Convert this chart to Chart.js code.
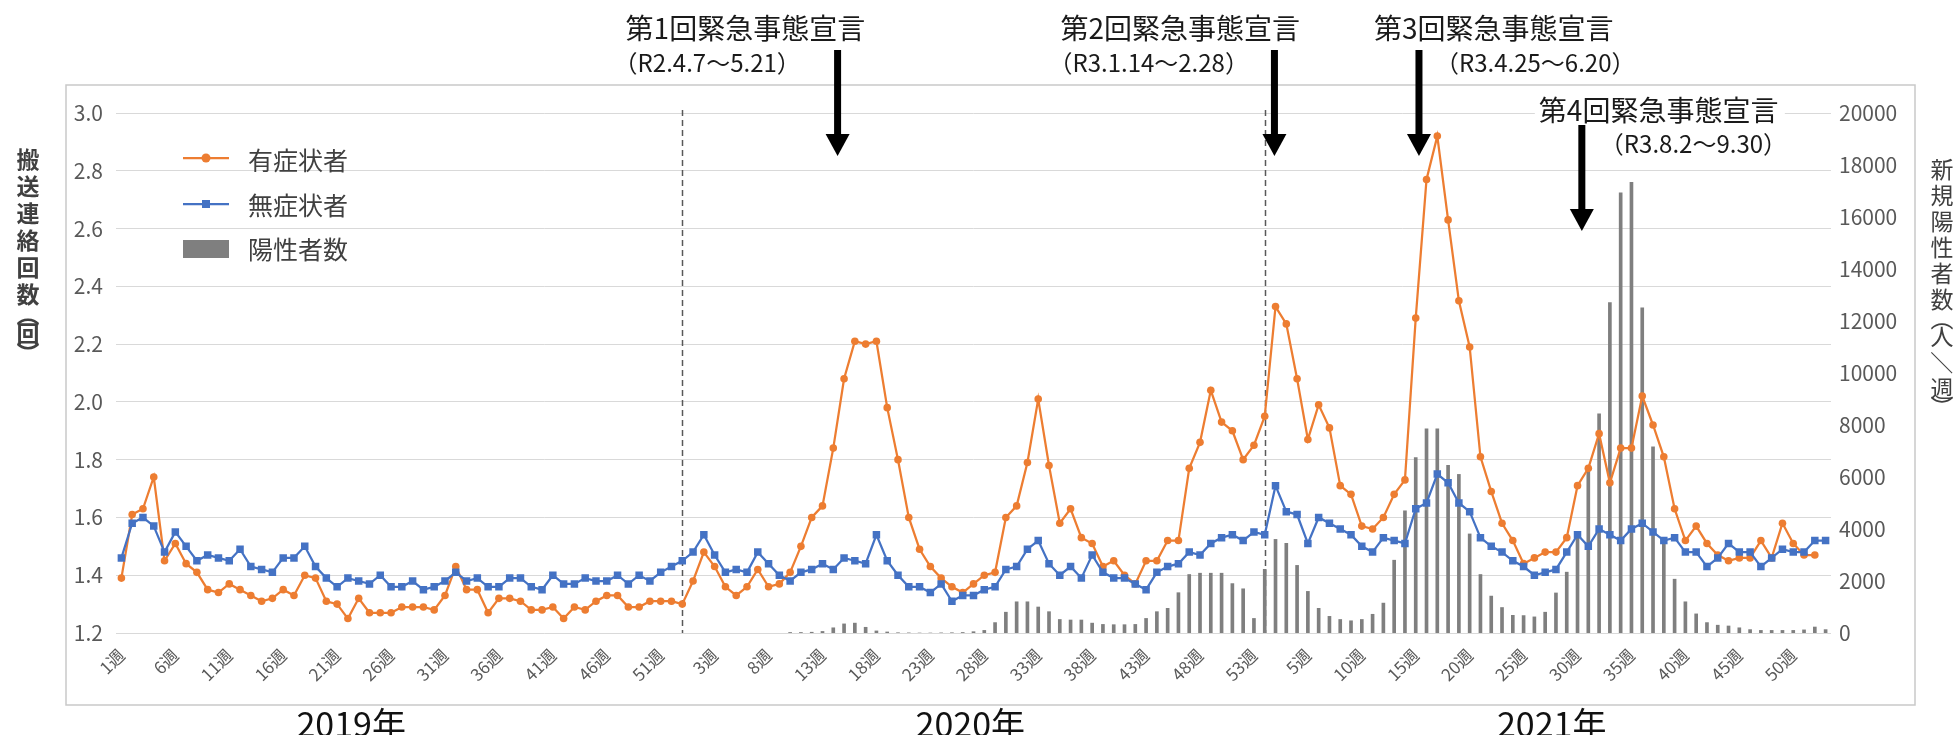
<!DOCTYPE html>
<html lang="ja">
<head>
<meta charset="utf-8">
<title>搬送連絡回数と新規陽性者数の推移</title>
<script src="https://cdn.jsdelivr.net/npm/chart.js@4.4.1/dist/chart.umd.min.js"></script>
<style>
  html, body { margin: 0; padding: 0; background: #fff; }
  #wrap { width: 1959px; height: 735px; }
</style>
</head>
<body>
<div id="wrap"><canvas id="transferChart" width="1959" height="735"></canvas></div>
<script>
// 年ごとの週（各年 1〜53週）
var years = ['2019年', '2020年', '2021年'];
var weeksPerYear = 53;

// 有症状者 搬送連絡回数（回）
var symptomatic2019 = [1.39, 1.61, 1.63, 1.74, 1.45, 1.51, 1.44, 1.41, 1.35, 1.34, 1.37, 1.35, 1.33, 1.31, 1.32, 1.35, 1.33, 1.40, 1.39, 1.31, 1.30, 1.25, 1.32, 1.27, 1.27, 1.27, 1.29, 1.29, 1.29, 1.28, 1.33, 1.43, 1.35, 1.35, 1.27, 1.32, 1.32, 1.31, 1.28, 1.28, 1.29, 1.25, 1.29, 1.28, 1.31, 1.33, 1.33, 1.29, 1.29, 1.31, 1.31, 1.31, 1.30];
var symptomatic2020 = [1.38, 1.48, 1.43, 1.36, 1.33, 1.36, 1.42, 1.36, 1.37, 1.41, 1.50, 1.60, 1.64, 1.84, 2.08, 2.21, 2.20, 2.21, 1.98, 1.80, 1.60, 1.49, 1.43, 1.39, 1.36, 1.34, 1.37, 1.40, 1.41, 1.60, 1.64, 1.79, 2.01, 1.78, 1.58, 1.63, 1.53, 1.51, 1.43, 1.45, 1.40, 1.37, 1.45, 1.45, 1.52, 1.52, 1.77, 1.86, 2.04, 1.93, 1.90, 1.80, 1.85];
var symptomatic2021 = [1.95, 2.33, 2.27, 2.08, 1.87, 1.99, 1.91, 1.71, 1.68, 1.57, 1.56, 1.60, 1.68, 1.73, 2.29, 2.77, 2.92, 2.63, 2.35, 2.19, 1.81, 1.69, 1.58, 1.52, 1.44, 1.46, 1.48, 1.48, 1.53, 1.71, 1.77, 1.89, 1.72, 1.84, 1.84, 2.02, 1.92, 1.81, 1.63, 1.52, 1.57, 1.51, 1.47, 1.45, 1.46, 1.46, 1.52, 1.46, 1.58, 1.51, 1.47, 1.47, null];

// 無症状者 搬送連絡回数（回）
var asymptomatic2019 = [1.46, 1.58, 1.60, 1.57, 1.48, 1.55, 1.50, 1.45, 1.47, 1.46, 1.45, 1.49, 1.43, 1.42, 1.41, 1.46, 1.46, 1.50, 1.43, 1.39, 1.36, 1.39, 1.38, 1.37, 1.40, 1.36, 1.36, 1.38, 1.35, 1.36, 1.38, 1.41, 1.38, 1.39, 1.36, 1.36, 1.39, 1.39, 1.36, 1.35, 1.40, 1.37, 1.37, 1.39, 1.38, 1.38, 1.40, 1.37, 1.40, 1.38, 1.41, 1.43, 1.45];
var asymptomatic2020 = [1.48, 1.54, 1.47, 1.41, 1.42, 1.41, 1.48, 1.44, 1.40, 1.38, 1.41, 1.42, 1.44, 1.42, 1.46, 1.45, 1.44, 1.54, 1.45, 1.40, 1.36, 1.36, 1.34, 1.37, 1.31, 1.33, 1.33, 1.35, 1.36, 1.42, 1.43, 1.49, 1.52, 1.44, 1.40, 1.43, 1.39, 1.47, 1.41, 1.39, 1.39, 1.37, 1.35, 1.41, 1.43, 1.44, 1.48, 1.47, 1.51, 1.53, 1.54, 1.52, 1.55];
var asymptomatic2021 = [1.54, 1.71, 1.62, 1.61, 1.51, 1.60, 1.58, 1.56, 1.54, 1.50, 1.48, 1.53, 1.52, 1.51, 1.63, 1.65, 1.75, 1.72, 1.65, 1.62, 1.53, 1.50, 1.48, 1.45, 1.43, 1.40, 1.41, 1.42, 1.48, 1.54, 1.50, 1.56, 1.54, 1.52, 1.56, 1.58, 1.55, 1.52, 1.53, 1.48, 1.48, 1.43, 1.46, 1.51, 1.48, 1.48, 1.43, 1.46, 1.49, 1.48, 1.48, 1.52, 1.52];

// 新規陽性者数（人／週）
var positives2020 = [null, null, null, null, null, null, null, null, null, 20, 20, 30, 60, 200, 350, 380, 220, 80, 40, 10, 5, 0, 0, 5, 10, 20, 50, 100, 400, 800, 1200, 1200, 1000, 820, 520, 500, 500, 380, 330, 320, 320, 330, 560, 820, 950, 1550, 2250, 2300, 2300, 2300, 1900, 1700, 560];
var positives2021 = [2450, 3600, 3450, 2600, 1600, 950, 640, 520, 470, 520, 720, 1150, 2800, 4700, 6750, 7850, 7850, 6450, 6100, 3810, 2250, 1420, 980, 680, 670, 620, 800, 1540, 2340, 3810, 6360, 8430, 12710, 16930, 17330, 12510, 7160, 3430, 2070, 1200, 735, 400, 300, 270, 200, 130, 100, 100, 100, 100, 120, 230, 130];

// 軸目盛
var leftTicks = [1.2, 1.4, 1.6, 1.8, 2.0, 2.2, 2.4, 2.6, 2.8, 3.0];
var rightTicks = [0, 2000, 4000, 6000, 8000, 10000, 12000, 14000, 16000, 18000, 20000];

var weekLabels = [];
years.forEach(function() {
    for (var w = 1; w <= weeksPerYear; w++) weekLabels.push(w + '週');
});
var noPositives = new Array(weeksPerYear).fill(null);

var symptomatic = symptomatic2019.concat(symptomatic2020, symptomatic2021);
var asymptomatic = asymptomatic2019.concat(asymptomatic2020, asymptomatic2021);
var positives = noPositives.concat(positives2020, positives2021);

var FONT = "'Noto Sans CJK JP', 'Noto Sans', sans-serif";
Chart.defaults.font.family = FONT;

var ORANGE = '#ED7D31';
var BLUE = '#4472C4';
var GREY_BAR = '#7F7F7F';

function drawVertical(ctx, text, x, yTop, step) {
    var forms = { '（': '︵', '）': '︶' };
    var y = yTop;
    for (var i = 0; i < text.length; i++) {
        var ch = text[i];
        var h = forms[ch] ? step * 0.45 : step;
        ctx.save();
        ctx.translate(x, y + h / 2);
        if (ch === '／') ctx.rotate(Math.PI / 2);
        ctx.fillText(forms[ch] || ch, 0, 0);
        ctx.restore();
        y += h;
    }
}

function drawArrow(ctx, x, yTop, yTip) {
    var shaft = 7, headW = 24, headH = 22;
    ctx.fillRect(x - shaft / 2, yTop, shaft, yTip - headH - yTop + 1);
    ctx.beginPath();
    ctx.moveTo(x - headW / 2, yTip - headH);
    ctx.lineTo(x + headW / 2, yTip - headH);
    ctx.lineTo(x, yTip);
    ctx.closePath();
    ctx.fill();
}

var decorations = {
    id: 'decorations',
    beforeDraw: function(chart) {
        var ctx = chart.ctx;
        ctx.save();
        ctx.fillStyle = '#fff';
        ctx.fillRect(0, 0, chart.width, chart.height);
        ctx.strokeStyle = '#c9c9c9';
        ctx.lineWidth = 1.5;
        ctx.strokeRect(66, 85, 1849, 620);
        ctx.restore();
    },
    beforeDatasetsDraw: function(chart) {
        // 年の区切りの破線
        var ctx = chart.ctx, xs = chart.scales.x, area = chart.chartArea;
        ctx.save();
        ctx.setLineDash([6, 4]);
        ctx.strokeStyle = '#595959';
        ctx.lineWidth = 1.5;
        [52, 106].forEach(function(i) {
            var px = Math.round(xs.getPixelForValue(i)) + 0.5;
            ctx.beginPath();
            ctx.moveTo(px, area.top - 3);
            ctx.lineTo(px, area.bottom);
            ctx.stroke();
        });
        ctx.restore();
    },
    afterDraw: function(chart) {
        var ctx = chart.ctx, xs = chart.scales.x, area = chart.chartArea;
        ctx.save();

        // 凡例
        var lx = area.left + 67;
        ctx.lineWidth = 2.25;
        ctx.strokeStyle = ORANGE;
        ctx.beginPath(); ctx.moveTo(lx, 158); ctx.lineTo(lx + 46, 158); ctx.stroke();
        ctx.fillStyle = ORANGE;
        ctx.beginPath(); ctx.arc(lx + 23, 158, 4.5, 0, Math.PI * 2); ctx.fill();
        ctx.strokeStyle = BLUE;
        ctx.beginPath(); ctx.moveTo(lx, 204); ctx.lineTo(lx + 46, 204); ctx.stroke();
        ctx.fillStyle = BLUE;
        ctx.fillRect(lx + 19, 200, 8, 8);
        ctx.fillStyle = GREY_BAR;
        ctx.fillRect(lx, 240, 46, 18);
        ctx.fillStyle = '#404040';
        ctx.font = '25px ' + FONT;
        ctx.textAlign = 'left';
        ctx.textBaseline = 'middle';
        ctx.fillText('有症状者', lx + 65, 160);
        ctx.fillText('無症状者', lx + 65, 205);
        ctx.fillText('陽性者数', lx + 65, 249);

        // 軸タイトル（縦書き）
        ctx.textAlign = 'center';
        ctx.font = 'bold 23px ' + FONT;
        drawVertical(ctx, '搬送連絡回数（回）', 28, 146, 27);
        ctx.font = '23px ' + FONT;
        drawVertical(ctx, '新規陽性者数（人／週）', 1942, 156, 26);

        // 年
        ctx.fillStyle = '#111';
        ctx.font = '34px ' + FONT;
        [[years[0], 21.3], [years[1], 78.7], [years[2], 132.6]].forEach(function(y) {
            ctx.fillText(y[0], xs.getPixelForValue(y[1]), 724);
        });

        // 緊急事態宣言
        var notes = [
            { title: '第1回緊急事態宣言', period: '（R2.4.7～5.21）', at: 66.4, top: 50, tip: 156, tx: -212, ty: 28, px: -224, py: 63 },
            { title: '第2回緊急事態宣言', period: '（R3.1.14～2.28）', at: 106.9, top: 50, tip: 156, tx: -214, ty: 28, px: -226, py: 63 },
            { title: '第3回緊急事態宣言', period: '（R3.4.25～6.20）', at: 120.3, top: 50, tip: 156, tx: -45, ty: 28, px: 16, py: 63 },
            { title: '第4回緊急事態宣言', period: '（R3.8.2～9.30）', at: 135.4, top: 125, tip: 231, tx: -43, ty: 110, px: 18, py: 144, box: true }
        ];
        ctx.textAlign = 'left';
        notes.forEach(function(n) {
            var ax = xs.getPixelForValue(n.at);
            if (n.box) {
                ctx.fillStyle = '#fff';
                ctx.fillRect(ax + n.tx - 4, n.ty - 18, 250, 36);
                ctx.fillRect(ax + n.px + 8, n.py - 15, 190, 30);
            }
            ctx.fillStyle = '#1a1a1a';
            ctx.font = '28px ' + FONT;
            ctx.fillText(n.title, ax + n.tx, n.ty);
            ctx.font = '24px ' + FONT;
            ctx.fillText(n.period, ax + n.px, n.py);
            ctx.fillStyle = '#000';
            drawArrow(ctx, ax, n.top, n.tip);
        });
        ctx.restore();
    }
};

var ctx = document.getElementById('transferChart').getContext('2d');
var transferChart = new Chart(ctx, {
    data: {
        labels: weekLabels,
        datasets: [{
            type: 'line',
            label: '無症状者',
            data: asymptomatic,
            yAxisID: 'y',
            borderColor: BLUE,
            backgroundColor: BLUE,
            borderWidth: 2.25,
            pointStyle: 'rect',
            pointRadius: 5.3,
            pointBorderWidth: 0,
            tension: 0,
            order: 1
        }, {
            type: 'line',
            label: '有症状者',
            data: symptomatic,
            yAxisID: 'y',
            borderColor: ORANGE,
            backgroundColor: ORANGE,
            borderWidth: 2.25,
            pointStyle: 'circle',
            pointRadius: 3.8,
            pointBorderWidth: 0,
            tension: 0,
            order: 2
        }, {
            type: 'bar',
            label: '陽性者数',
            data: positives,
            yAxisID: 'y2',
            backgroundColor: GREY_BAR,
            barThickness: 3,
            order: 3
        }]
    },
    options: {
        responsive: false,
        animation: false,
        layout: {
            autoPadding: false,
            padding: { left: 66, top: 113, right: 0, bottom: 0 }
        },
        plugins: {
            legend: { display: false },
            tooltip: { enabled: false }
        },
        scales: {
            x: {
                offset: true,
                grid: { display: false },
                border: { display: false },
                afterFit: function(s) { s.height = 102; },
                ticks: {
                    autoSkip: false,
                    minRotation: 45,
                    maxRotation: 45,
                    padding: 4,
                    color: '#595959',
                    font: { size: 17 },
                    callback: function(value, index) {
                        return index % 5 === 0 ? this.getLabelForValue(value) : '';
                    }
                }
            },
            y: {
                position: 'left',
                min: leftTicks[0],
                max: leftTicks[leftTicks.length - 1],
                afterFit: function(s) { s.width = 50; },
                afterBuildTicks: function(s) {
                    s.ticks = leftTicks.map(function(v) { return { value: v }; });
                },
                grid: { color: '#d9d9d9', lineWidth: 1, drawTicks: false },
                border: { display: false },
                ticks: {
                    padding: 13,
                    color: '#595959',
                    font: { size: 21 },
                    callback: function(v) { return v.toFixed(1); }
                }
            },
            y2: {
                position: 'right',
                min: rightTicks[0],
                max: rightTicks[rightTicks.length - 1],
                afterFit: function(s) { s.width = 128; },
                afterBuildTicks: function(s) {
                    s.ticks = rightTicks.map(function(v) { return { value: v }; });
                },
                grid: { display: false, drawTicks: false },
                border: { display: false },
                ticks: {
                    padding: 8,
                    color: '#595959',
                    font: { size: 21 },
                    callback: function(v) { return String(v); }
                }
            }
        }
    },
    plugins: [decorations]
});
</script>
</body>
</html>
